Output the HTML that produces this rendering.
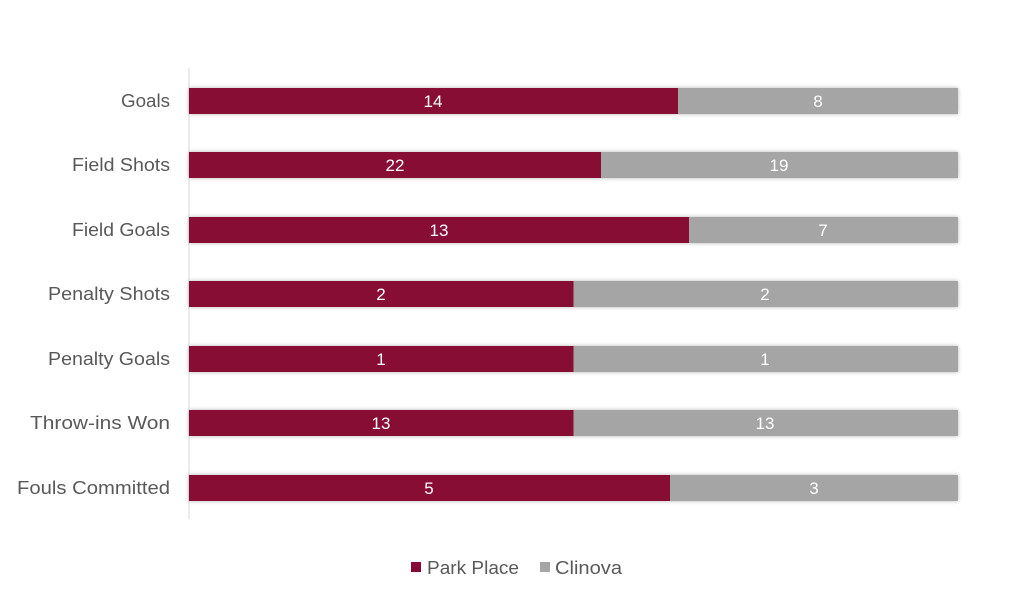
<!DOCTYPE html>
<html><head><style>
body{margin:0;background:#fff;}
svg{display:block;font-family:"Liberation Sans",sans-serif;}
</style></head><body>
<svg width="1024" height="603" xmlns="http://www.w3.org/2000/svg">
<defs><filter id="s" x="-5%" y="-50%" width="110%" height="200%"><feGaussianBlur in="SourceAlpha" stdDeviation="2"/><feOffset dy="0"/><feComponentTransfer><feFuncA type="linear" slope="0.3"/></feComponentTransfer><feMerge><feMergeNode/><feMergeNode in="SourceGraphic"/></feMerge></filter></defs>
<line x1="189" y1="68" x2="189" y2="519" stroke="#d9d9d9" stroke-width="1"/>
<g font-size="18" fill="#595959" text-anchor="end" lengthAdjust="spacingAndGlyphs">
<text x="170" y="107" textLength="49" lengthAdjust="spacingAndGlyphs">Goals</text>
<text x="170" y="171" textLength="98" lengthAdjust="spacingAndGlyphs">Field Shots</text>
<text x="170" y="236" textLength="98" lengthAdjust="spacingAndGlyphs">Field Goals</text>
<text x="170" y="300" textLength="122" lengthAdjust="spacingAndGlyphs">Penalty Shots</text>
<text x="170" y="365" textLength="122" lengthAdjust="spacingAndGlyphs">Penalty Goals</text>
<text x="170" y="429" textLength="140" lengthAdjust="spacingAndGlyphs">Throw-ins Won</text>
<text x="170" y="494" textLength="153" lengthAdjust="spacingAndGlyphs">Fouls Committed</text>
</g>
<g filter="url(#s)">
<rect x="189" y="88" width="769" height="26" fill="#a5a5a5"/><rect x="189" y="88" width="489" height="26" fill="#870836"/>
<rect x="189" y="152" width="769" height="26" fill="#a5a5a5"/><rect x="189" y="152" width="412" height="26" fill="#870836"/>
<rect x="189" y="217" width="769" height="26" fill="#a5a5a5"/><rect x="189" y="217" width="500" height="26" fill="#870836"/>
<rect x="189" y="281" width="769" height="26" fill="#a5a5a5"/><rect x="189" y="281" width="384.5" height="26" fill="#870836"/>
<rect x="189" y="346" width="769" height="26" fill="#a5a5a5"/><rect x="189" y="346" width="384.5" height="26" fill="#870836"/>
<rect x="189" y="410" width="769" height="26" fill="#a5a5a5"/><rect x="189" y="410" width="384.5" height="26" fill="#870836"/>
<rect x="189" y="475" width="769" height="26" fill="#a5a5a5"/><rect x="189" y="475" width="481" height="26" fill="#870836"/>
</g>
<g font-size="17" fill="#fff" text-anchor="middle">
<text x="433" y="107">14</text><text x="818" y="107">8</text>
<text x="395" y="171">22</text><text x="779" y="171">19</text>
<text x="439" y="236">13</text><text x="823" y="236">7</text>
<text x="381" y="300">2</text><text x="765" y="300">2</text>
<text x="381" y="365">1</text><text x="765" y="365">1</text>
<text x="381" y="429">13</text><text x="765" y="429">13</text>
<text x="429" y="494">5</text><text x="814" y="494">3</text>
</g>
<rect x="411" y="562" width="10" height="10" fill="#870836"/>
<text x="427" y="574" font-size="18" fill="#595959" textLength="92" lengthAdjust="spacingAndGlyphs">Park Place</text>
<rect x="540" y="562" width="10" height="10" fill="#a5a5a5"/>
<text x="555" y="574" font-size="18" fill="#595959" textLength="67" lengthAdjust="spacingAndGlyphs">Clinova</text>
</svg>
</body></html>
